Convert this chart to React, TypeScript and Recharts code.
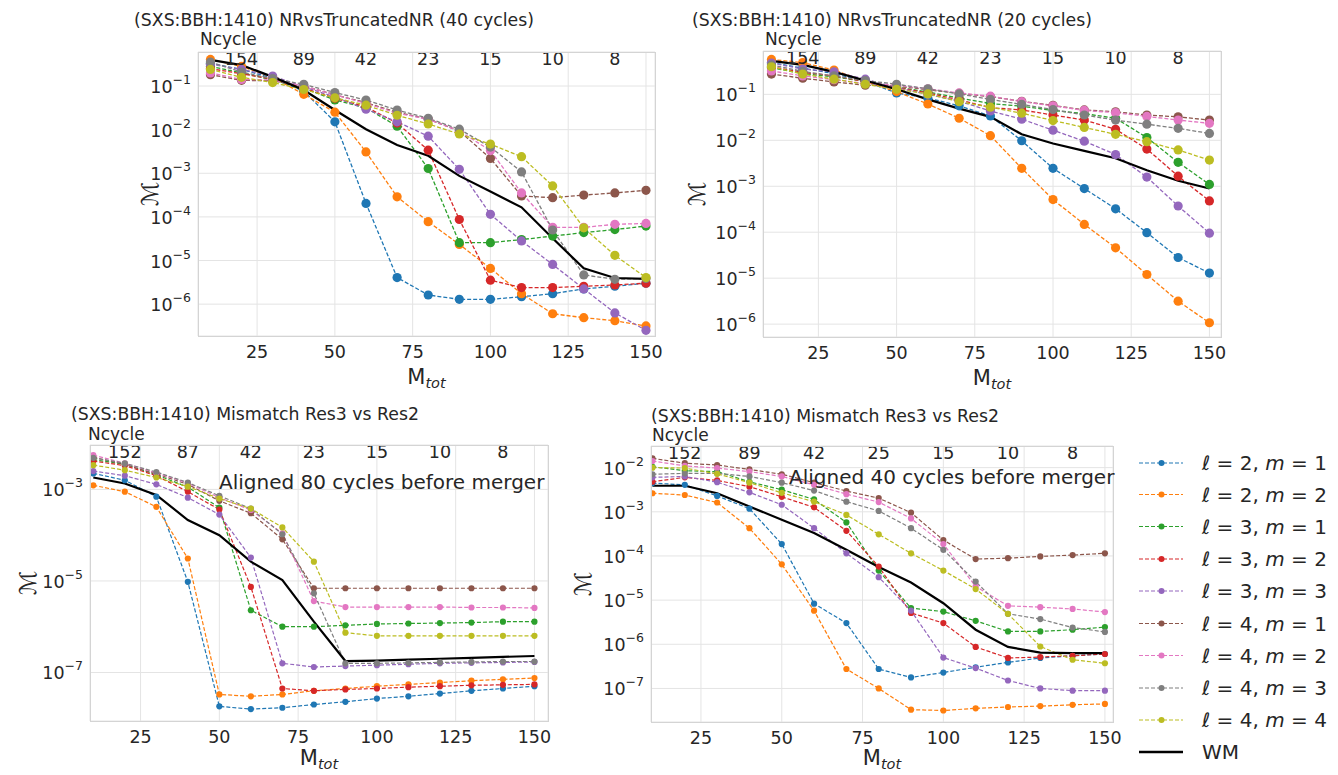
import React from "react";
import { CartesianGrid, Line, LineChart, XAxis, YAxis } from "recharts";

const FONT = "'DejaVu Sans', sans-serif";
const INK = "#262626";
const GRID = "#e4e4e4";
const FRAME = "#d4d4d4";

// total mass samples and axis ticks
const M_TOT = [10, 20, 30, 40, 50, 60, 70, 80, 90, 100, 110, 120, 130, 140, 150];
const M_TOT_TICKS = [25, 50, 75, 100, 125, 150];
const NCYCLE_AT = [20, 40, 60, 80, 100, 120, 140];

const NCYCLE_TL = ["154", "89", "42", "23", "15", "10", "8"];
const NCYCLE_TR = ["154", "89", "42", "23", "15", "10", "8"];
const NCYCLE_BL = ["152", "87", "42", "23", "15", "10", "8"];
const NCYCLE_BR = ["152", "89", "42", "25", "15", "10", "8"];

const MODES = [
  [2, 1], [2, 2], [3, 1], [3, 2], [3, 3], [4, 1], [4, 2], [4, 3], [4, 4],
];
const MODE_COLORS = [
  "#1f77b4", "#ff7f0e", "#2ca02c", "#d62728", "#9467bd",
  "#8c564b", "#e377c2", "#7f7f7f", "#bcbd22",
];

// log10 of the mismatch, one row per (l, m) mode in MODES order
const TL_LOG = [
  [-0.48, -0.62, -0.82, -1.12, -1.82, -3.69, -5.39, -5.79, -5.89, -5.89, -5.83, -5.76, -5.65, -5.59, -5.52],
  [-0.39, -0.55, -0.80, -1.19, -1.60, -2.51, -3.54, -4.11, -4.63, -5.18, -5.76, -6.22, -6.31, -6.38, -6.50],
  [-0.55, -0.70, -0.86, -1.05, -1.32, -1.50, -1.92, -2.89, -4.59, -4.59, -4.52, -4.44, -4.36, -4.29, -4.21],
  [-0.60, -0.72, -0.84, -1.05, -1.28, -1.48, -1.85, -2.47, -4.06, -5.45, -5.62, -5.62, -5.59, -5.56, -5.52],
  [-0.50, -0.62, -0.77, -1.02, -1.25, -1.53, -1.82, -2.15, -2.91, -3.94, -4.55, -5.09, -5.65, -6.20, -6.60],
  [-0.74, -0.87, -0.88, -1.00, -1.20, -1.38, -1.60, -1.76, -2.03, -2.66, -3.52, -3.56, -3.50, -3.45, -3.39],
  [-0.70, -0.85, -0.86, -1.00, -1.20, -1.40, -1.62, -1.76, -2.03, -2.48, -3.45, -4.24, -4.24, -4.17, -4.15],
  [-0.45, -0.68, -0.83, -0.96, -1.15, -1.32, -1.55, -1.74, -1.99, -2.40, -2.97, -4.30, -5.33, -5.43, -5.41],
  [-0.62, -0.80, -0.92, -1.08, -1.27, -1.44, -1.67, -1.87, -2.10, -2.33, -2.62, -3.29, -4.25, -4.88, -5.39],
];
const TL_WM = [-0.40, -0.52, -0.79, -1.09, -1.55, -1.99, -2.35, -2.60, -3.06, -3.42, -3.78, -4.49, -5.18, -5.40, -5.42];

const TR_LOG = [
  [-0.31, -0.43, -0.55, -0.72, -0.97, -1.08, -1.25, -1.47, -2.01, -2.61, -3.05, -3.49, -4.01, -4.55, -4.89],
  [-0.24, -0.31, -0.47, -0.72, -0.94, -1.21, -1.52, -1.90, -2.61, -3.29, -3.83, -4.34, -4.92, -5.50, -5.97],
  [-0.42, -0.55, -0.62, -0.72, -0.84, -0.95, -1.08, -1.20, -1.26, -1.35, -1.42, -1.52, -1.94, -2.48, -2.96],
  [-0.40, -0.52, -0.60, -0.72, -0.85, -0.97, -1.12, -1.29, -1.34, -1.45, -1.56, -1.76, -2.19, -2.78, -3.32],
  [-0.32, -0.45, -0.51, -0.67, -0.86, -1.00, -1.15, -1.36, -1.54, -1.78, -2.02, -2.31, -2.80, -3.43, -4.02],
  [-0.56, -0.65, -0.73, -0.80, -0.82, -0.90, -0.98, -1.05, -1.15, -1.24, -1.34, -1.38, -1.45, -1.49, -1.56],
  [-0.49, -0.60, -0.68, -0.76, -0.80, -0.88, -0.97, -1.04, -1.16, -1.25, -1.35, -1.40, -1.48, -1.56, -1.63],
  [-0.36, -0.50, -0.60, -0.70, -0.78, -0.88, -0.99, -1.11, -1.22, -1.33, -1.45, -1.56, -1.65, -1.74, -1.85],
  [-0.40, -0.56, -0.67, -0.78, -0.89, -0.99, -1.16, -1.28, -1.41, -1.57, -1.72, -1.87, -2.03, -2.21, -2.43],
];
const TR_WM = [-0.27, -0.36, -0.51, -0.70, -0.89, -1.11, -1.31, -1.49, -1.87, -2.07, -2.23, -2.39, -2.65, -2.88, -3.05];

const BL_LOG = [
  [-2.65, -2.80, -3.16, -5.02, -7.74, -7.80, -7.77, -7.70, -7.64, -7.57, -7.52, -7.46, -7.40, -7.35, -7.30],
  [-2.91, -3.05, -3.38, -4.51, -7.48, -7.52, -7.48, -7.40, -7.35, -7.30, -7.26, -7.22, -7.18, -7.15, -7.12],
  [-2.35, -2.45, -2.68, -2.95, -3.40, -5.64, -6.00, -6.00, -5.97, -5.94, -5.93, -5.92, -5.91, -5.89, -5.89],
  [-2.38, -2.48, -2.70, -3.05, -3.44, -5.13, -7.35, -7.40, -7.37, -7.35, -7.32, -7.30, -7.28, -7.27, -7.26],
  [-2.60, -2.70, -2.89, -3.18, -3.55, -4.49, -6.80, -6.88, -6.86, -6.84, -6.82, -6.80, -6.79, -6.78, -6.77],
  [-2.30, -2.45, -2.66, -2.89, -3.25, -3.52, -4.09, -5.16, -5.16, -5.16, -5.16, -5.16, -5.16, -5.16, -5.16],
  [-2.25, -2.43, -2.64, -2.86, -3.18, -3.45, -3.96, -5.44, -5.57, -5.57, -5.57, -5.57, -5.58, -5.58, -5.59],
  [-2.31, -2.43, -2.62, -2.85, -3.14, -3.42, -3.98, -5.27, -6.80, -6.80, -6.79, -6.78, -6.77, -6.76, -6.76],
  [-2.47, -2.58, -2.74, -2.94, -3.20, -3.42, -3.83, -4.58, -6.13, -6.20, -6.20, -6.20, -6.20, -6.20, -6.20],
];
const BL_WM = [-2.74, -2.87, -3.12, -3.67, -4.00, -4.58, -4.98, -5.89, -6.75, -6.74, -6.72, -6.70, -6.68, -6.66, -6.64];

const BR_LOG = [
  [-2.35, -2.39, -2.64, -2.93, -3.73, -5.08, -5.52, -6.56, -6.75, -6.64, -6.52, -6.41, -6.31, -6.26, -6.22],
  [-2.58, -2.62, -2.79, -3.37, -4.19, -5.24, -6.56, -7.00, -7.48, -7.50, -7.45, -7.42, -7.40, -7.37, -7.35],
  [-1.98, -2.07, -2.09, -2.32, -2.50, -2.72, -3.24, -4.33, -5.18, -5.26, -5.47, -5.71, -5.71, -5.67, -5.61],
  [-2.32, -2.22, -2.29, -2.43, -2.66, -2.90, -3.43, -4.24, -5.29, -5.52, -6.06, -6.31, -6.29, -6.26, -6.22],
  [-2.22, -2.20, -2.33, -2.56, -2.84, -3.37, -3.94, -4.48, -5.24, -6.30, -6.54, -6.82, -7.00, -7.05, -7.05],
  [-1.79, -1.90, -1.94, -2.04, -2.15, -2.34, -2.53, -2.69, -3.02, -3.64, -4.07, -4.05, -4.01, -3.98, -3.94],
  [-1.85, -1.96, -2.01, -2.09, -2.20, -2.39, -2.60, -2.78, -3.15, -3.73, -4.69, -5.13, -5.16, -5.20, -5.27],
  [-2.15, -2.13, -2.13, -2.20, -2.34, -2.52, -2.77, -2.98, -3.37, -3.86, -4.58, -5.31, -5.43, -5.62, -5.72],
  [-2.00, -2.01, -2.14, -2.34, -2.57, -2.77, -3.07, -3.51, -3.94, -4.33, -4.75, -5.31, -6.05, -6.35, -6.43],
];
const BR_WM = [-2.41, -2.41, -2.58, -2.88, -3.18, -3.48, -3.86, -4.25, -4.60, -5.07, -5.67, -6.06, -6.19, -6.20, -6.20];

type Rect = { left: number; top: number; width: number; height: number };

type PanelSpec = {
  id: string;
  plot: Rect;
  xDomain: [number, number];
  yExp: [number, number];
  yTicks: number[];
  modes: number[][];
  wm: number[];
  ncycle: string[];
  dotR: number;
  lineW: number;
  title: string;
  titleX: number;
  titleY: number;
  ncycleX: number;
  ncycleY: number;
  ylabelX: number;
  xlabelDy: number;
  aligned?: { text: string; x: number; y: number };
};

const PANELS: PanelSpec[] = [
  {
    id: "tl",
    plot: { left: 198, top: 52, width: 457, height: 284 },
    xDomain: [6.0, 152.9],
    yExp: [-6.73, -0.22],
    yTicks: [-6, -5, -4, -3, -2, -1],
    modes: TL_LOG,
    wm: TL_WM,
    ncycle: NCYCLE_TL,
    dotR: 4.6,
    lineW: 1.3,
    title: "(SXS:BBH:1410) NRvsTruncatedNR (40 cycles)",
    titleX: 334,
    titleY: 20,
    ncycleX: 200,
    ncycleY: 39,
    ylabelX: 150,
    xlabelDy: 48,
  },
  {
    id: "tr",
    plot: { left: 763, top: 51, width: 458, height: 286 },
    xDomain: [7.3, 153.7],
    yExp: [-6.28, -0.057],
    yTicks: [-6, -5, -4, -3, -2, -1],
    modes: TR_LOG,
    wm: TR_WM,
    ncycle: NCYCLE_TR,
    dotR: 4.6,
    lineW: 1.3,
    title: "(SXS:BBH:1410) NRvsTruncatedNR (20 cycles)",
    titleX: 892,
    titleY: 20,
    ncycleX: 765,
    ncycleY: 39,
    ylabelX: 697,
    xlabelDy: 48,
  },
  {
    id: "bl",
    plot: { left: 90, top: 445, width: 458, height: 276 },
    xDomain: [8.95, 154.3],
    yExp: [-8.06, -2.03],
    yTicks: [-7, -5, -3],
    modes: BL_LOG,
    wm: BL_WM,
    ncycle: NCYCLE_BL,
    dotR: 3.1,
    lineW: 1.2,
    title: "(SXS:BBH:1410) Mismatch Res3 vs Res2",
    titleX: 245,
    titleY: 414,
    ncycleX: 88,
    ncycleY: 434,
    ylabelX: 28,
    xlabelDy: 44,
    aligned: { text: "Aligned 80 cycles before merger", x: 219, y: 482 },
  },
  {
    id: "br",
    plot: { left: 651, top: 446, width: 462, height: 276 },
    xDomain: [9.54, 152.5],
    yExp: [-7.76, -1.51],
    yTicks: [-7, -6, -5, -4, -3, -2],
    modes: BR_LOG,
    wm: BR_WM,
    ncycle: NCYCLE_BR,
    dotR: 3.1,
    lineW: 1.2,
    title: "(SXS:BBH:1410) Mismatch Res3 vs Res2",
    titleX: 825,
    titleY: 416,
    ncycleX: 652,
    ncycleY: 435,
    ylabelX: 583,
    xlabelDy: 43,
    aligned: { text: "Aligned 40 cycles before merger", x: 789, y: 477 },
  },
];

const AXIS_W = 80;
const TOP_PAD = 40;
const BOTTOM_PAD = 60;
const RIGHT_PAD = 10;

function MtotTick(props: any) {
  const { x, y, payload } = props;
  return (
    <text x={x} y={y + 22} textAnchor="middle" fontSize={17.5} fill={INK} fontFamily={FONT}>
      {payload.value}
    </text>
  );
}

function NcycleTick(props: any) {
  const { x, y, payload, labels } = props;
  const i = NCYCLE_AT.indexOf(payload.value);
  return (
    <text x={x} y={y + 13} textAnchor="middle" fontSize={17.5} fill={INK} fontFamily={FONT}>
      {labels[i]}
    </text>
  );
}

function PowTick(props: any) {
  const { x, y, payload } = props;
  const e = Math.round(Math.log10(payload.value));
  return (
    <text x={x - 7} y={y + 7} textAnchor="end" fontSize={17.5} fill={INK} fontFamily={FONT}>
      10
      <tspan dy={-9} fontSize={12.5}>{"\u2212" + Math.abs(e)}</tspan>
    </text>
  );
}

function MismatchPanel({ spec }: { spec: PanelSpec }) {
  const { plot } = spec;
  const data = M_TOT.map((m, i) => {
    const row: Record<string, number> = { m };
    spec.modes.forEach((s, k) => {
      row[`s${k}`] = Math.pow(10, s[i]);
    });
    row.wm = Math.pow(10, spec.wm[i]);
    return row;
  });
  const yDomain = [Math.pow(10, spec.yExp[0]), Math.pow(10, spec.yExp[1])];
  const yTicks = spec.yTicks.map((e) => Math.pow(10, e));

  return (
    <div style={{ position: "absolute", left: plot.left - AXIS_W, top: plot.top - TOP_PAD }}>
      <LineChart
        width={AXIS_W + plot.width + RIGHT_PAD}
        height={TOP_PAD + plot.height + BOTTOM_PAD}
        data={data}
        margin={{ top: TOP_PAD - 20, right: RIGHT_PAD, bottom: BOTTOM_PAD - 30, left: 0 }}
      >
        <CartesianGrid stroke={GRID} strokeWidth={1} />
        <XAxis
          dataKey="m"
          type="number"
          domain={spec.xDomain}
          ticks={M_TOT_TICKS}
          interval={0}
          allowDataOverflow
          axisLine={false}
          tickLine={false}
          tickSize={0}
          tickMargin={0}
          height={30}
          tick={<MtotTick />}
        />
        <XAxis
          xAxisId="top"
          orientation="top"
          dataKey="m"
          type="number"
          domain={spec.xDomain}
          ticks={NCYCLE_AT}
          interval={0}
          allowDataOverflow
          axisLine={false}
          tickLine={false}
          tickSize={0}
          tickMargin={0}
          height={20}
          tick={<NcycleTick labels={spec.ncycle} />}
        />
        <YAxis
          type="number"
          scale="log"
          domain={yDomain}
          ticks={yTicks}
          interval={0}
          allowDataOverflow
          axisLine={false}
          tickLine={false}
          tickSize={0}
          tickMargin={0}
          width={AXIS_W}
          tick={<PowTick />}
        />
        {MODES.map((_, k) => (
          <Line
            key={`s${k}`}
            type="linear"
            dataKey={`s${k}`}
            stroke={MODE_COLORS[k]}
            strokeWidth={spec.lineW}
            strokeDasharray="4 2"
            dot={(p: any) => (
              <circle key={`${spec.id}-${k}-${p.index}`} cx={p.cx} cy={p.cy} r={spec.dotR} fill={MODE_COLORS[k]} />
            )}
            activeDot={false}
            isAnimationActive={false}
          />
        ))}
        <Line
          type="linear"
          dataKey="wm"
          stroke="#000000"
          strokeWidth={2.2}
          dot={false}
          activeDot={false}
          isAnimationActive={false}
        />
      </LineChart>
    </div>
  );
}

function PanelText({ spec }: { spec: PanelSpec }) {
  const { plot } = spec;
  const cx = plot.left + plot.width / 2;
  const cy = plot.top + plot.height / 2;
  const bottom = plot.top + plot.height;
  return (
    <g fontFamily={FONT} fill={INK}>
      <rect x={plot.left + 0.5} y={plot.top + 0.5} width={plot.width} height={plot.height} fill="none" stroke={FRAME} />
      <text x={spec.titleX} y={spec.titleY} textAnchor="middle" dominantBaseline="central" fontSize={17.3}>
        {spec.title}
      </text>
      <text x={spec.ncycleX} y={spec.ncycleY} dominantBaseline="central" fontSize={17}>
        Ncycle
      </text>
      <text x={cx} y={bottom + spec.xlabelDy} textAnchor="middle" fontSize={21}>
        M
        <tspan fontSize={14.5} fontStyle="italic" dy={4}>tot</tspan>
      </text>
      <text
        x={spec.ylabelX}
        y={cy}
        textAnchor="middle"
        dominantBaseline="central"
        fontSize={23}
        transform={`rotate(-90 ${spec.ylabelX} ${cy})`}
      >
        {"\u2133"}
      </text>
      {spec.aligned && (
        <text x={spec.aligned.x} y={spec.aligned.y} dominantBaseline="central" fontSize={20}>
          {spec.aligned.text}
        </text>
      )}
    </g>
  );
}

const LEGEND_ROWS = [463, 494.5, 526.5, 559, 591, 623.5, 655.5, 688, 720, 752];

function ModeLegend() {
  return (
    <g fontFamily={FONT} fill={INK}>
      {MODES.map(([l, m], k) => (
        <g key={k}>
          <line x1={1139} x2={1183} y1={LEGEND_ROWS[k]} y2={LEGEND_ROWS[k]} stroke={MODE_COLORS[k]} strokeWidth={1.2} strokeDasharray="4 2" />
          <circle cx={1161.5} cy={LEGEND_ROWS[k]} r={3} fill={MODE_COLORS[k]} />
          <text x={1202} y={LEGEND_ROWS[k]} dominantBaseline="central" fontSize={20}>
            {`\u2113 = ${l}, `}
            <tspan fontStyle="italic">m</tspan>
            {` = ${m}`}
          </text>
        </g>
      ))}
      <line x1={1139} x2={1183} y1={LEGEND_ROWS[9]} y2={LEGEND_ROWS[9]} stroke="#000000" strokeWidth={2.4} />
      <text x={1202} y={LEGEND_ROWS[9]} dominantBaseline="central" fontSize={20}>
        WM
      </text>
    </g>
  );
}

export default function App() {
  return (
    <div
      style={{
        position: "absolute",
        left: 0,
        top: 0,
        width: 1338,
        height: 775,
        background: "#ffffff",
        overflow: "hidden",
        fontFamily: FONT,
      }}
    >
      {PANELS.map((p) => (
        <MismatchPanel key={p.id} spec={p} />
      ))}
      <svg
        width={1338}
        height={775}
        style={{ position: "absolute", left: 0, top: 0, pointerEvents: "none" }}
      >
        {PANELS.map((p) => (
          <PanelText key={p.id} spec={p} />
        ))}
        <ModeLegend />
      </svg>
    </div>
  );
}
